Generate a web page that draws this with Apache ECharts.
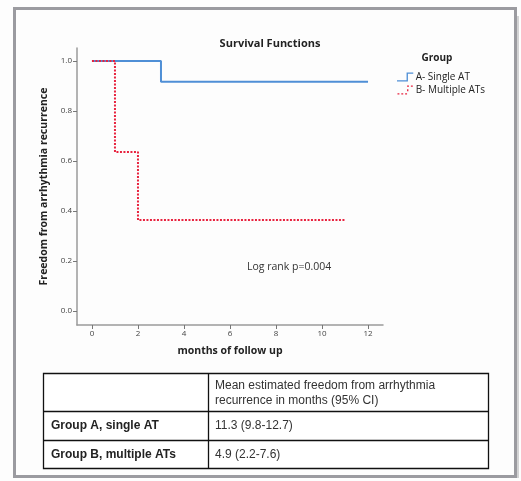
<!DOCTYPE html>
<html><head><meta charset="utf-8">
<script src="https://cdn.jsdelivr.net/npm/echarts@6/dist/echarts.min.js"></script>
<style>html,body{margin:0;padding:0;background:#fdfdfd}#c{width:521px;height:481px}</style>
</head><body><div id="c"></div>
<script>
// Data
const groupNames = ['A- Single AT', 'B- Multiple ATs'];
const groupA_months = [0, 3, 3, 12];
const groupA_survival = [1.0, 1.0, 0.917, 0.917];
const groupB_months = [0, 1, 1, 2, 2, 11];
const groupB_survival = [1.0, 1.0, 0.636, 0.636, 0.364, 0.364];
const xTicks = [0, 2, 4, 6, 8, 10, 12];
const yTicks = [0, 0.2, 0.4, 0.6, 0.8, 1.0];
const tableHeader = ['Mean estimated freedom from arrhythmia', 'recurrence in months (95% CI)'];
const tableRowLabels = ['Group A, single AT', 'Group B, multiple ATs'];
const tableRowValues = ['11.3 (9.8-12.7)', '4.9 (2.2-7.6)'];

const pair = (xs, ys) => xs.map((x, i) => [x, ys[i]]);
const chart = echarts.init(document.getElementById('c'));
const font = 'Open Sans';
const tfont = 'Liberation Sans';

const graphics = [
  {type:'rect', shape:{x:14.5,y:8.5,width:501,height:468}, style:{fill:'#fdfdfd', stroke:'#9b9ba0', lineWidth:3}, z:-10},
  {type:'line', shape:{x1:518,y1:16,x2:518,y2:478}, style:{stroke:'#c4c4c6', lineWidth:1.5}, z:-10},
  {type:'text', x:437, y:58, style:{text:'Group', font:'bold 10px "'+font+'"', fill:'#222', align:'center', verticalAlign:'middle'}},
  {type:'text', x:247, y:267, style:{text:'Log rank p=0.004', font:'10.5px "'+font+'"', fill:'#333', align:'left', verticalAlign:'middle'}},
  // table
  {type:'rect', shape:{x:43.5,y:373.5,width:445,height:95}, style:{fill:'#ffffff', stroke:'#111', lineWidth:1.3}},
  {type:'line', shape:{x1:43.5,y1:411.5,x2:488.5,y2:411.5}, style:{stroke:'#111', lineWidth:1.3}},
  {type:'line', shape:{x1:43.5,y1:440.5,x2:488.5,y2:440.5}, style:{stroke:'#111', lineWidth:1.3}},
  {type:'line', shape:{x1:208.5,y1:373.5,x2:208.5,y2:468.5}, style:{stroke:'#111', lineWidth:1.3}},
  {type:'text', x:215, y:386, style:{text:tableHeader[0], font:'12px "'+tfont+'"', fill:'#333', verticalAlign:'middle'}},
  {type:'text', x:215, y:401, style:{text:tableHeader[1], font:'12px "'+tfont+'"', fill:'#333', verticalAlign:'middle'}},
  {type:'text', x:51, y:426, style:{text:tableRowLabels[0], font:'bold 12px "'+tfont+'"', fill:'#222', verticalAlign:'middle'}},
  {type:'text', x:51, y:455, style:{text:tableRowLabels[1], font:'bold 12px "'+tfont+'"', fill:'#222', verticalAlign:'middle'}},
  {type:'text', x:215, y:426, style:{text:tableRowValues[0], font:'12px "'+tfont+'"', fill:'#333', verticalAlign:'middle'}},
  {type:'text', x:215, y:455, style:{text:tableRowValues[1], font:'12px "'+tfont+'"', fill:'#333', verticalAlign:'middle'}}
];

chart.setOption({
  animation:false,
  backgroundColor:'#fdfdfd',
  title:{text:'Survival Functions', left:265, top:33, textAlign:'center',
    textStyle:{fontFamily:font, fontWeight:'bold', fontSize:11, color:'#222'}},
  legend:{orient:'vertical', left:392, top:67, itemWidth:17, itemHeight:9, itemGap:3,
    textStyle:{fontFamily:font, fontSize:10, color:'#222', padding:[0,0,0,-3]},
    data:[
      {name:groupNames[0], icon:'path://M0,8 L10,8 L10,0 L17,0 L17,1.4 L11.4,1.4 L11.4,9.4 L0,9.4 Z'},
      {name:groupNames[1], icon:'path://M0,8 L2,8 L2,9.4 L0,9.4 Z M4,8 L6,8 L6,9.4 L4,9.4 Z M8,8 L10,8 L10,9.4 L8,9.4 Z M10,4 L11.4,4 L11.4,6 L10,6 Z M10,0 L12,0 L12,1.4 L10,1.4 Z M14,0 L16,0 L16,1.4 L14,1.4 Z'}
    ]},
  grid:{left:77, right:138, top:48, bottom:156},
  xAxis:{type:'value', min:-0.65, max:12.65,
    name:'months of follow up', nameLocation:'middle', nameGap:21,
    nameTextStyle:{fontFamily:font, fontWeight:'bold', fontSize:10.5, color:'#222'},
    axisLine:{onZero:false, lineStyle:{color:'#9a9a9a', width:1.5}},
    axisTick:{show:true, length:4, customValues:xTicks, lineStyle:{color:'#777'}},
    axisLabel:{customValues:xTicks, fontFamily:font, fontSize:8, color:'#444', margin:5},
    splitLine:{show:false}},
  yAxis:{type:'value', min:-0.056, max:1.052,
    name:'Freedom from arrhythmia recurrence', nameLocation:'middle', nameGap:24,
    nameTextStyle:{fontFamily:font, fontWeight:'bold', fontSize:10.5, color:'#222'},
    axisLine:{show:true, onZero:false, lineStyle:{color:'#9a9a9a', width:1.5}},
    axisTick:{show:true, length:4, customValues:yTicks, lineStyle:{color:'#777'}},
    axisLabel:{customValues:yTicks, fontFamily:font, fontSize:8, color:'#444', margin:5,
      formatter:v=>v.toFixed(1)},
    splitLine:{show:false}},
  series:[
    {name:groupNames[0], type:'line', data:pair(groupA_months, groupA_survival), showSymbol:false, symbol:'none',
      color:'#4f8fd6', lineStyle:{color:'#4f8fd6', width:2}, z:2},
    {name:groupNames[1], type:'line', data:pair(groupB_months, groupB_survival), showSymbol:false, symbol:'none',
      color:'#e8233f', lineStyle:{color:'#e8233f', width:2, type:[2,1.5]}, z:3}
  ],
  graphic:graphics
});
</script></body></html>
